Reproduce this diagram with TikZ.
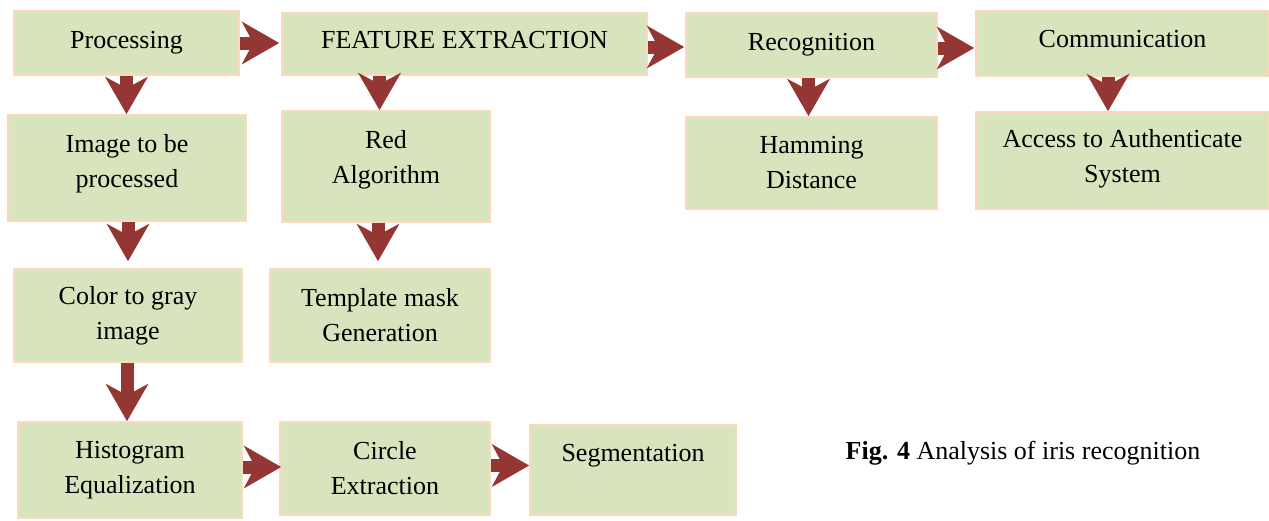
\documentclass[tikz,border=0pt]{standalone}
\usepackage{fontspec}
\setmainfont{Liberation Serif}
\usetikzlibrary{arrows.meta}
\definecolor{boxfill}{HTML}{D7E4BD}
\definecolor{boxline}{HTML}{FAD9BC}
\definecolor{arrred}{HTML}{943634}
\tikzset{
  box/.style={draw=boxline, fill=boxfill, line width=1.6pt, inner sep=0pt, align=center,
    font=\fontsize{26}{35}\selectfont},
  arr/.style={draw=arrred, line width=13pt,
    -{Stealth[length=37pt,width=42pt,inset=11pt]}},
}
\begin{document}
\begin{tikzpicture}[x=1pt,y=-1pt]
\useasboundingbox (0,0) rectangle (1269,520);
% row 1
\node[box, minimum width=225pt, minimum height=64pt] (proc) at (126.5,43) {Processing};
\node[box, minimum width=365pt, minimum height=62pt, text depth=9pt] (feat) at (464.5,44) {FEATURE EXTRACTION};
\node[box, minimum width=251pt, minimum height=64pt] (recog) at (811.5,45) {Recognition};
\node[box, minimum width=293pt, minimum height=65pt, text depth=9pt] (comm) at (1122.5,43.5) {Communication};
% row 2
\node[box, minimum width=238pt, minimum height=106pt, text depth=14pt] (img) at (127,168) {Image to be\\processed};
\node[box, minimum width=208pt, minimum height=111pt, text depth=20pt] (red) at (386,166.5) {Red\\Algorithm};
\node[box, minimum width=251pt, minimum height=92pt] (ham) at (811.5,163) {Hamming\\Distance};
\node[box, minimum width=293pt, minimum height=97pt, text depth=9pt] (acc) at (1122.5,160.5) {Access to Authenticate\\System};
% row 3
\node[box, minimum width=228pt, minimum height=93pt] (color) at (128,315.5) {Color to gray\\image};
\node[box, minimum width=220pt, minimum height=93pt] (tmpl) at (380,315.5) {Template mask\\Generation};
% row 4
\node[box, minimum width=224pt, minimum height=96pt] (hist) at (130,470) {Histogram\\Equalization};
\node[box, minimum width=210pt, minimum height=93pt] (circ) at (385,468.5) {Circle\\Extraction};
\node[box, minimum width=206pt, minimum height=90pt, text depth=34pt] (seg) at (633,470) {Segmentation};
% caption
\node[font=\fontsize{26}{35}\selectfont, inner sep=0pt] (cap) at (1023,453) {\textbf{Fig. 4} Analysis of iris recognition};
% arrows
\draw[arr, shorten >=2pt] (proc.east) -- (proc.east -| feat.west);
\draw[arr, shorten >=1pt] ([yshift=-3pt]feat.east) -- ([yshift=-3pt]feat.east -| recog.west);
\draw[arr, shorten >=1pt] ([yshift=-3pt]recog.east) -- ([yshift=-3pt]recog.east -| comm.west);
\draw[arr] ([xshift=-14.5pt]comm.south) -- ([xshift=-14.5pt]comm.south |- acc.north);
\draw[arr] (proc.south) -- (proc.south |- img.north);
\draw[arr] ([xshift=-85pt]feat.south) -- ([xshift=-85pt]feat.south |- red.north);
\draw[arr] ([xshift=-3pt]recog.south) -- ([xshift=-3pt]recog.south |- ham.north);
\draw[arr, shorten >=7pt] ([xshift=1pt]img.south) -- ([xshift=1pt]img.south |- color.north);
\draw[arr, shorten >=7pt] ([xshift=-8pt]red.south) -- ([xshift=-8pt]red.south |- tmpl.north);
\draw[arr] ([xshift=-1pt]color.south) -- ([xshift=-1pt]color.south |- hist.north);
\draw[arr, shorten >=-2pt] ([yshift=3pt]hist.east) -- ([yshift=3pt]hist.east -| circ.west);
\draw[arr] ([yshift=3pt]circ.east) -- ([yshift=3pt]circ.east -| seg.west);
\end{tikzpicture}
\end{document}
